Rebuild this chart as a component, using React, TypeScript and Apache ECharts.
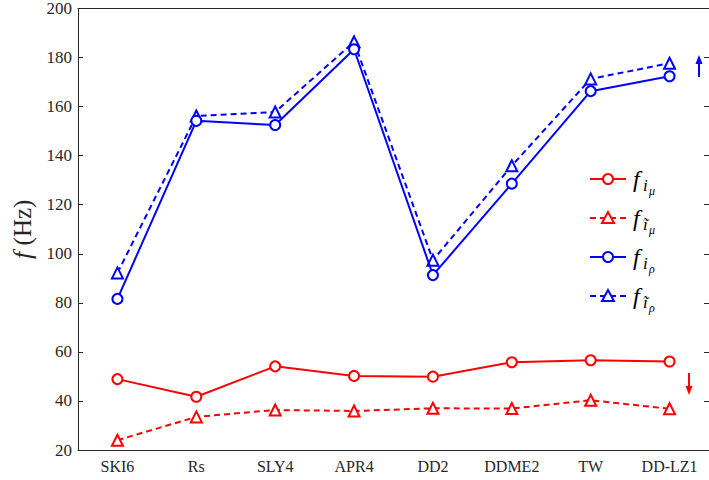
import React, { useEffect, useRef } from "react";
import * as echarts from "echarts";

const categories = ["SKI6", "Rs", "SLY4", "APR4", "DD2", "DDME2", "TW", "DD-LZ1"];
const fMuSolid = [48.9, 41.7, 54.1, 50.2, 49.9, 55.8, 56.6, 56.1];
const fMuDashed = [24.0, 33.5, 36.3, 35.9, 37.0, 36.9, 40.3, 36.8];
const fRhoSolid = [81.6, 154.2, 152.5, 183.4, 91.3, 128.6, 166.3, 172.4];
const fRhoDashed = [92.2, 156.2, 157.8, 186.4, 97.4, 135.9, 171.3, 177.7];
const yTicks = { min: 20, max: 200, interval: 20 };

const RED = "#ff0000";
const BLUE = "#0000ff";
const AXIS = "#262626";
const SERIF = "'Liberation Serif', 'DejaVu Serif', serif";

export default function App() {
  const ref = useRef<HTMLDivElement>(null);
  useEffect(() => {
    if (!ref.current) return;
    const chart = echarts.init(ref.current, undefined, { renderer: "svg" });
    const mk = (name: string, data: number[], color: string, dashed: boolean) => ({
      name,
      type: "line",
      data,
      symbol: dashed ? "emptyTriangle" : "emptyCircle",
      symbolSize: dashed ? 11 : 10,
      lineStyle: { color, width: 2, type: dashed ? [6, 4] : "solid" },
      itemStyle: { color, borderColor: color, borderWidth: 2 },
      z: dashed ? 2 : 3,
    });
    const legendY = [179, 218, 257, 296];
    const legendDefs = [
      { color: RED, dashed: false, sub2: "μ" },
      { color: RED, dashed: true, sub2: "μ" },
      { color: BLUE, dashed: false, sub2: "ρ" },
      { color: BLUE, dashed: true, sub2: "ρ" },
    ];
    const legendGraphics: any[] = [];
    legendDefs.forEach((d, i) => {
      const y = legendY[i];
      legendGraphics.push({
        type: "line",
        shape: { x1: 590, y1: y, x2: 626, y2: y },
        style: { stroke: d.color, lineWidth: 2, lineDash: d.dashed ? [6, 4] : null },
      });
      if (d.dashed) {
        legendGraphics.push({
          type: "polygon",
          shape: { points: [[608, y - 6], [602, y + 5], [614, y + 5]] },
          style: { fill: "#fff", stroke: d.color, lineWidth: 2 },
        });
      } else {
        legendGraphics.push({
          type: "circle",
          shape: { cx: 608, cy: y, r: 5 },
          style: { fill: "#fff", stroke: d.color, lineWidth: 2 },
        });
      }
      legendGraphics.push({
        type: "text",
        x: 633,
        y: y,
        style: { text: "f", font: `italic 24px ${SERIF}`, fill: "#000", verticalAlign: "middle", align: "left" },
      });
      legendGraphics.push({
        type: "text",
        x: 643,
        y: y + 6,
        style: { text: d.dashed ? "ĩ" : "i", font: `italic 17px ${SERIF}`, fill: "#000", verticalAlign: "middle", align: "left" },
      });
      legendGraphics.push({
        type: "text",
        x: 649,
        y: y + 12,
        style: { text: d.sub2, font: `italic 12px ${SERIF}`, fill: "#000", verticalAlign: "middle", align: "left" },
      });
    });
    // arrows
    legendGraphics.push(
      { type: "line", shape: { x1: 699, y1: 77, x2: 699, y2: 62 }, style: { stroke: BLUE, lineWidth: 2 } },
      { type: "polygon", shape: { points: [[699, 55], [695.5, 64], [702.5, 64]] }, style: { fill: BLUE } },
      { type: "line", shape: { x1: 689, y1: 373, x2: 689, y2: 388 }, style: { stroke: RED, lineWidth: 2 } },
      { type: "polygon", shape: { points: [[689, 395], [685.5, 386], [692.5, 386]] }, style: { fill: RED } }
    );

    const option: any = {
      animation: false,
      backgroundColor: "#fff",
      grid: { left: 78, top: 6, width: 634, height: 444, containLabel: false },
      xAxis: [
        {
          type: "category",
          data: categories,
          boundaryGap: true,
          axisLine: { lineStyle: { color: AXIS, width: 1 } },
          axisTick: { inside: true, alignWithLabel: true, length: 5, lineStyle: { color: AXIS } },
          axisLabel: { color: AXIS, fontFamily: SERIF, fontSize: 16, margin: 8, interval: 0 },
          splitLine: { show: false },
        },
        {
          type: "category",
          data: categories,
          position: "top",
          boundaryGap: true,
          axisLine: { lineStyle: { color: AXIS, width: 1 } },
          axisTick: { inside: true, alignWithLabel: true, length: 5, lineStyle: { color: AXIS } },
          axisLabel: { show: false },
          splitLine: { show: false },
        },
      ],
      yAxis: [
        {
          type: "value",
          min: yTicks.min,
          max: yTicks.max,
          interval: yTicks.interval,
          name: "{it|f} (Hz)",
          nameLocation: "middle",
          nameRotate: 90,
          nameGap: 40,
          nameTextStyle: {
            fontFamily: SERIF,
            fontSize: 25,
            color: AXIS,
            rich: { it: { fontFamily: SERIF, fontSize: 26, fontStyle: "italic", color: AXIS } },
          },
          axisLine: { show: true, lineStyle: { color: AXIS, width: 1 } },
          axisTick: { show: true, inside: true, length: 5, lineStyle: { color: AXIS } },
          axisLabel: { color: AXIS, fontFamily: SERIF, fontSize: 17, margin: 6 },
          splitLine: { show: false },
        },
        {
          type: "value",
          position: "right",
          min: yTicks.min,
          max: yTicks.max,
          interval: yTicks.interval,
          axisLine: { show: true, lineStyle: { color: AXIS, width: 1 } },
          axisTick: { show: true, inside: true, length: 5, lineStyle: { color: AXIS } },
          axisLabel: { show: false },
          splitLine: { show: false },
        },
      ],
      series: [
        mk("f_iμ", fMuSolid, RED, false),
        mk("f_ĩμ", fMuDashed, RED, true),
        mk("f_iρ", fRhoSolid, BLUE, false),
        mk("f_ĩρ", fRhoDashed, BLUE, true),
      ],
      graphic: legendGraphics,
    };
    chart.setOption(option);
    return () => chart.dispose();
  }, []);
  return (
    <div
      ref={ref}
      style={{ position: "fixed", left: 0, top: 0, width: 709, height: 480, background: "#fff" }}
    />
  );
}
